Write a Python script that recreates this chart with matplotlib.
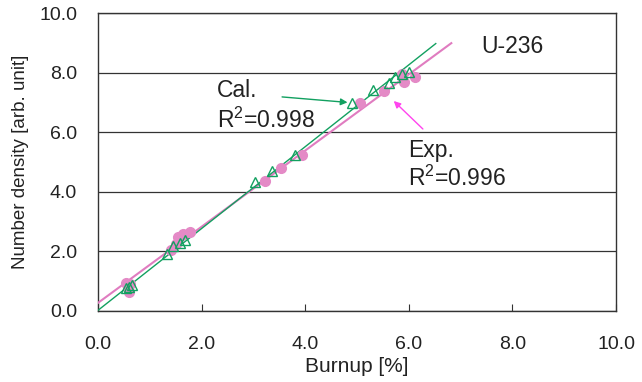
import matplotlib
matplotlib.use("Agg")
import matplotlib.pyplot as plt
import numpy as np

plt.rcParams['font.family'] = ['Liberation Sans', 'DejaVu Sans']
plt.rcParams['mathtext.fontset'] = 'custom'
plt.rcParams['mathtext.rm'] = 'Liberation Sans'

# Experimental (pink circles)
exp_x = [0.55, 0.62, 0.60, 0.58, 1.40, 1.50, 1.55, 1.65, 1.78, 3.22, 3.53, 3.93, 5.05, 5.53, 5.86, 5.91, 6.12]
exp_y = [0.95, 0.90, 0.62, 0.80, 2.05, 2.25, 2.48, 2.58, 2.64, 4.37, 4.82, 5.25, 7.00, 7.40, 7.95, 7.70, 7.85]
# Calculated (green triangles)
cal_x = [0.55, 0.60, 0.65, 1.33, 1.45, 1.58, 1.68, 3.03, 3.35, 3.80, 4.90, 5.31, 5.62, 5.73, 5.86, 6.01]
cal_y = [0.78, 0.82, 0.88, 1.92, 2.18, 2.30, 2.38, 4.32, 4.71, 5.25, 7.00, 7.42, 7.67, 7.86, 7.97, 8.03]

# Fit lines (slope, intercept, x end)
exp_fit = (1.28, 0.27, 6.82)
cal_fit = (1.375, 0.02, 6.52)

xticks = [0, 2, 4, 6, 8, 10]
yticks = [0, 2, 4, 6, 8, 10]

pink = '#e48ac6'
pinkline = '#e07cc0'
green = '#12a060'
textc = '#222222'

fig = plt.figure(figsize=(6.42, 3.82), dpi=100)
ax = fig.add_axes([0.1526, 0.186, 0.807, 0.779])

for fit, col, lw in [(exp_fit, pinkline, 1.5), (cal_fit, green, 1.0)]:
    xs = np.array([0, fit[2]])
    ax.plot(xs, fit[0] * xs + fit[1], color=col, lw=lw, zorder=3)

ax.plot(exp_x, exp_y, 'o', ms=7, color=pink, mec=pink, zorder=4, clip_on=False)
ax.plot(cal_x, cal_y, '^', ms=7, mfc='none', mec=green, mew=1.0, zorder=5, clip_on=False)

ax.set_xlim(0, 10)
ax.set_ylim(0, 10)
ax.set_xticks(xticks)
ax.set_yticks(yticks)
ax.set_xticklabels([f"{v:.1f}" for v in xticks])
ax.set_yticklabels([f"{v:.1f}" for v in yticks])
ax.yaxis.grid(True, color='#333333', lw=0.9)
ax.set_axisbelow(True)
ax.tick_params(axis='x', direction='in', length=5, color='#333333', labelsize=14, labelcolor=textc, pad=18)
ax.tick_params(axis='y', length=0, labelsize=14, labelcolor=textc, pad=15)
for s in ax.spines.values():
    s.set_color('#333333')
    s.set_linewidth(1.0)

ax.set_xlabel('Burnup [%]', fontsize=15, color=textc, labelpad=3)
ax.set_ylabel('Number density [arb. unit]', fontsize=13.5, color=textc, labelpad=7)

ax.text(7.4, 8.9, 'U-236', fontsize=16.5, color=textc, va='center')
ax.text(2.3, 7.4, 'Cal.', fontsize=16.5, color=textc, va='center')
ax.text(2.3, 6.4, r'R$^\mathregular{2}$=0.998', fontsize=16.5, color=textc, va='center')
ax.text(5.98, 5.4, 'Exp.', fontsize=16.5, color=textc, va='center')
ax.text(5.98, 4.45, r'R$^\mathregular{2}$=0.996', fontsize=16.5, color=textc, va='center')

ax.annotate('', xy=(4.87, 7.0), xytext=(3.5, 7.2),
            arrowprops=dict(arrowstyle='-|>', color=green, lw=1.0, mutation_scale=10))
ax.annotate('', xy=(5.67, 7.12), xytext=(6.31, 6.05),
            arrowprops=dict(arrowstyle='-|>', color='#ff44ee', lw=1.0, mutation_scale=10))

fig.savefig('out.png', dpi=100)
